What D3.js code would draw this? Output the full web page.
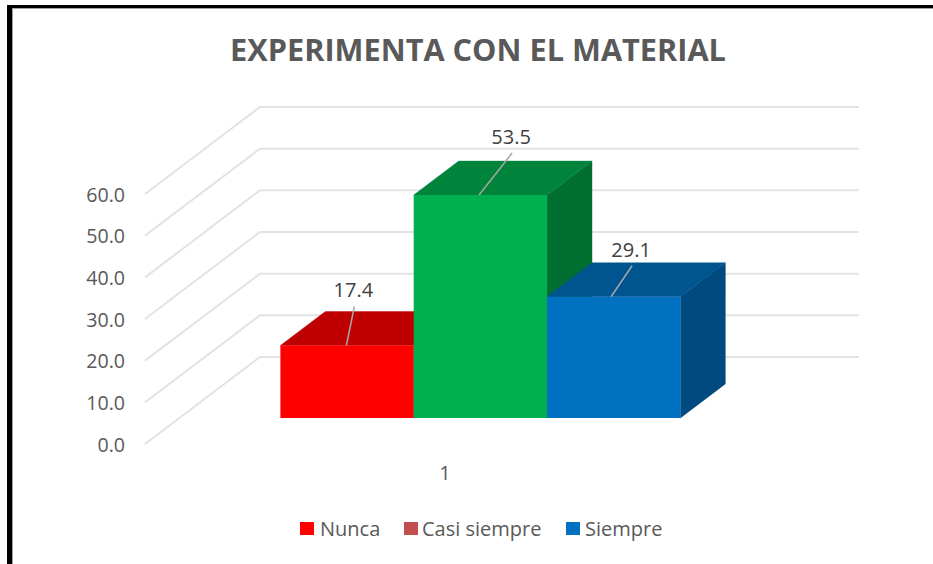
<!DOCTYPE html>
<html>
<head>
<meta charset="utf-8">
<script src="https://cdn.jsdelivr.net/npm/d3@7"></script>
<style>
html,body{margin:0;padding:0;background:#fff;}
svg{display:block;}
text{font-family:"Open Sans",sans-serif;}
</style>
</head>
<body>
<svg id="c" width="933" height="564"></svg>
<script>
const chartTitle = "EXPERIMENTA CON EL MATERIAL";
const seriesNames = ["Nunca", "Casi siempre", "Siempre"];
const seriesValues = [17.4, 53.5, 29.1];
const categoryLabel = "1";
const axisTicks = [0, 10, 20, 30, 40, 50, 60];

const faceColors = ["#ff0000", "#00b050", "#0070c0"];
const topColors = ["#bf0000", "#00843c", "#005490"];
const sideColors = ["#a80000", "#006f30", "#004a80"];
const legendColors = ["#ff0000", "#c0504d", "#0070c0"];
const leaderDx = [8, 33, 21];
const leaderDy = [-39, -42, -31];
const leaderAnchor = [0.495, 0.49, 0.48];
const legendSwatchX = [300, 404, 566];
const legendTextX = [320, 422, 585];

const svg = d3.select("#c");

// frame
svg.append("rect").attr("x", 12).attr("y", 8).attr("width", 921).attr("height", 1).attr("fill", "#a0a0a0");
svg.append("rect").attr("x", 12).attr("y", 8).attr("width", 1).attr("height", 556).attr("fill", "#a0a0a0");
svg.append("rect").attr("x", 7).attr("y", 5).attr("width", 926).attr("height", 3).attr("fill", "#000");
svg.append("rect").attr("x", 7).attr("y", 5).attr("width", 5).attr("height", 559).attr("fill", "#000");

// scales: value (front plane), depth projection, bar position
const y = d3.scaleLinear().domain([0, 60]).range([444, 194]);
const depthX = d3.scaleLinear().domain([0, 1]).range([0, 115]);
const depthY = d3.scaleLinear().domain([0, 1]).range([0, -87]);
const axisX = 145, wallRight = 859;
const barZ0 = 0.299, barZ1 = 0.69;
const band = d3.scaleBand().domain(seriesNames).range([246, 646]).padding(0);

const P = (px, v, z) => [px + depthX(z), y(v) + depthY(z)];
const poly = pts => pts.map(p => p.join(",")).join(" ");

// title
svg.append("text").attr("x", 478).attr("y", 61).attr("text-anchor", "middle")
  .attr("font-size", 30.7).attr("font-weight", 700).attr("fill", "#595959").text(chartTitle);

// gridlines
const grid = svg.append("g").attr("fill", "none").attr("stroke", "#e3e3e3").attr("stroke-width", 2);
axisTicks.forEach(t => {
  const a = P(axisX, t, 0), b = P(axisX, t, 1);
  grid.append("polyline").attr("points", poly([a, b, [wallRight, b[1]]]));
});

// axis
const axis = d3.axisLeft(y).tickValues(axisTicks).tickFormat(d3.format(".1f")).tickSize(0).tickPadding(0);
const ax = svg.append("g").attr("transform", `translate(125,1)`).call(axis);
ax.select(".domain").remove();
ax.selectAll("text").attr("font-size", 19.6).attr("fill", "#595959").attr("font-family", '"Open Sans",sans-serif');

// bars
seriesNames.forEach((name, i) => {
  const v = seriesValues[i];
  const x0 = band(name), x1 = x0 + band.bandwidth();
  const g = svg.append("g");
  g.append("polygon").attr("fill", sideColors[i]).attr("stroke", sideColors[i]).attr("stroke-width", 0.4)
    .attr("points", poly([P(x1, 0, barZ0), P(x1, 0, barZ1), P(x1, v, barZ1), P(x1, v, barZ0)]));
  g.append("polygon").attr("fill", topColors[i]).attr("stroke", topColors[i]).attr("stroke-width", 0.4)
    .attr("points", poly([P(x0, v, barZ0), P(x1, v, barZ0), P(x1, v, barZ1), P(x0, v, barZ1)]));
  g.append("polygon").attr("fill", faceColors[i])
    .attr("points", poly([P(x0, 0, barZ0), P(x1, 0, barZ0), P(x1, v, barZ0), P(x0, v, barZ0)]));
});

// leaders and labels
seriesNames.forEach((name, i) => {
  const v = seriesValues[i];
  const a = P(band(name) + band.bandwidth() * leaderAnchor[i], v, barZ0);
  const bx = a[0] + leaderDx[i], by = a[1] + leaderDy[i];
  svg.append("line").attr("x1", a[0]).attr("y1", a[1]).attr("x2", bx).attr("y2", by)
    .attr("stroke", "#a6a6a6").attr("stroke-width", 1.5);
  svg.append("text").attr("x", bx - 1).attr("y", by - 9).attr("text-anchor", "middle")
    .attr("font-size", 20).attr("fill", "#404040").text(d3.format(".1f")(v));
});

// category
svg.append("text").attr("x", 445).attr("y", 480).attr("text-anchor", "middle")
  .attr("font-size", 20).attr("fill", "#595959").text(categoryLabel);

// legend
seriesNames.forEach((name, i) => {
  svg.append("rect").attr("x", legendSwatchX[i]).attr("y", 522).attr("width", 14).attr("height", 13).attr("fill", legendColors[i]);
  svg.append("text").attr("x", legendTextX[i]).attr("y", 536)
    .attr("font-size", 20).attr("fill", "#595959").text(name);
});
</script>
</body>
</html>
